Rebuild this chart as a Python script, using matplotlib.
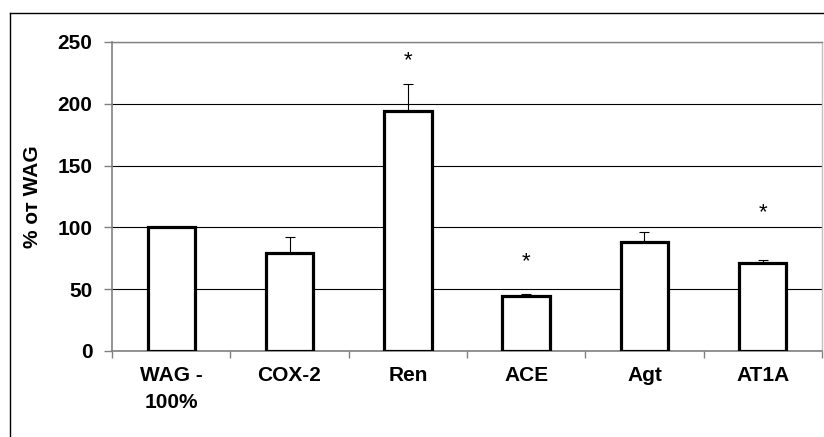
import matplotlib
matplotlib.use("Agg")
import matplotlib.pyplot as plt
from matplotlib.lines import Line2D

categories = ["WAG -\n100%", "COX-2", "Ren", "ACE", "Agt", "AT1A"]
values = [100, 79.5, 194.5, 44.5, 88, 71]
errors = [0, 13, 21.5, 1.5, 8.5, 3]
star_heights = [None, None, 235, 72, None, 112]
y_ticks = [0, 50, 100, 150, 200, 250]

plt.rcParams['font.family'] = ['Liberation Sans', 'DejaVu Sans']

fig = plt.figure(figsize=(8.24, 4.37), dpi=100)
ax = fig.add_axes([112/824, 86/437, 710/824, 309/437])

x = list(range(len(categories)))
lower = [0]*len(errors)
ax.bar(x, values, width=0.4, color="white", edgecolor="black", linewidth=2.3, zorder=3)
ax.errorbar(x, values, yerr=[lower, errors], fmt="none", ecolor="black",
            elinewidth=0.8, capsize=3.4, capthick=0.8, zorder=2)

for xi, sh in zip(x, star_heights):
    if sh is not None:
        ax.text(xi, sh, "*", ha="center", va="center", fontsize=16, zorder=4)

ax.set_xlim(-0.5, len(categories) - 0.5)
ax.set_ylim(0, 250)
ax.set_yticks(y_ticks)
ax.set_yticklabels([str(t) for t in y_ticks], fontsize=15, fontweight="bold")
ax.yaxis.grid(True, color="black", linewidth=0.8, zorder=0)
ax.set_axisbelow(True)

ax.set_xticks(x)
ax.set_xticklabels(categories, fontsize=15, fontweight="bold", linespacing=1.5)
ax.tick_params(axis="x", which="major", length=0, pad=11)
ax.set_xticks([i - 0.5 for i in range(len(categories) + 1)], minor=True)
ax.tick_params(axis="x", which="minor", length=5, color="#808080", width=1, direction="out")
ax.tick_params(axis="y", length=6, color="#808080", width=1, pad=8)

ax.set_ylabel("% от WAG", fontsize=15, fontweight="bold", labelpad=11)

for s in ["left", "bottom"]:
    ax.spines[s].set_color("#808080")
    ax.spines[s].set_linewidth(1.2)
ax.spines["top"].set_color("#808080")
ax.spines["top"].set_linewidth(1.0)
ax.spines["right"].set_color("#c0c0c0")
ax.spines["right"].set_linewidth(1.0)

# outer frame (left and top edges)
fig.add_artist(Line2D([9.5/824, 9.5/824], [0, 1 - 13/437], color="black", linewidth=1.0,
                      transform=fig.transFigure))
fig.add_artist(Line2D([9.5/824, 1], [1 - 13/437, 1 - 13/437], color="black", linewidth=1.0,
                      transform=fig.transFigure))

fig.savefig("out.png", dpi=100, facecolor="white")
